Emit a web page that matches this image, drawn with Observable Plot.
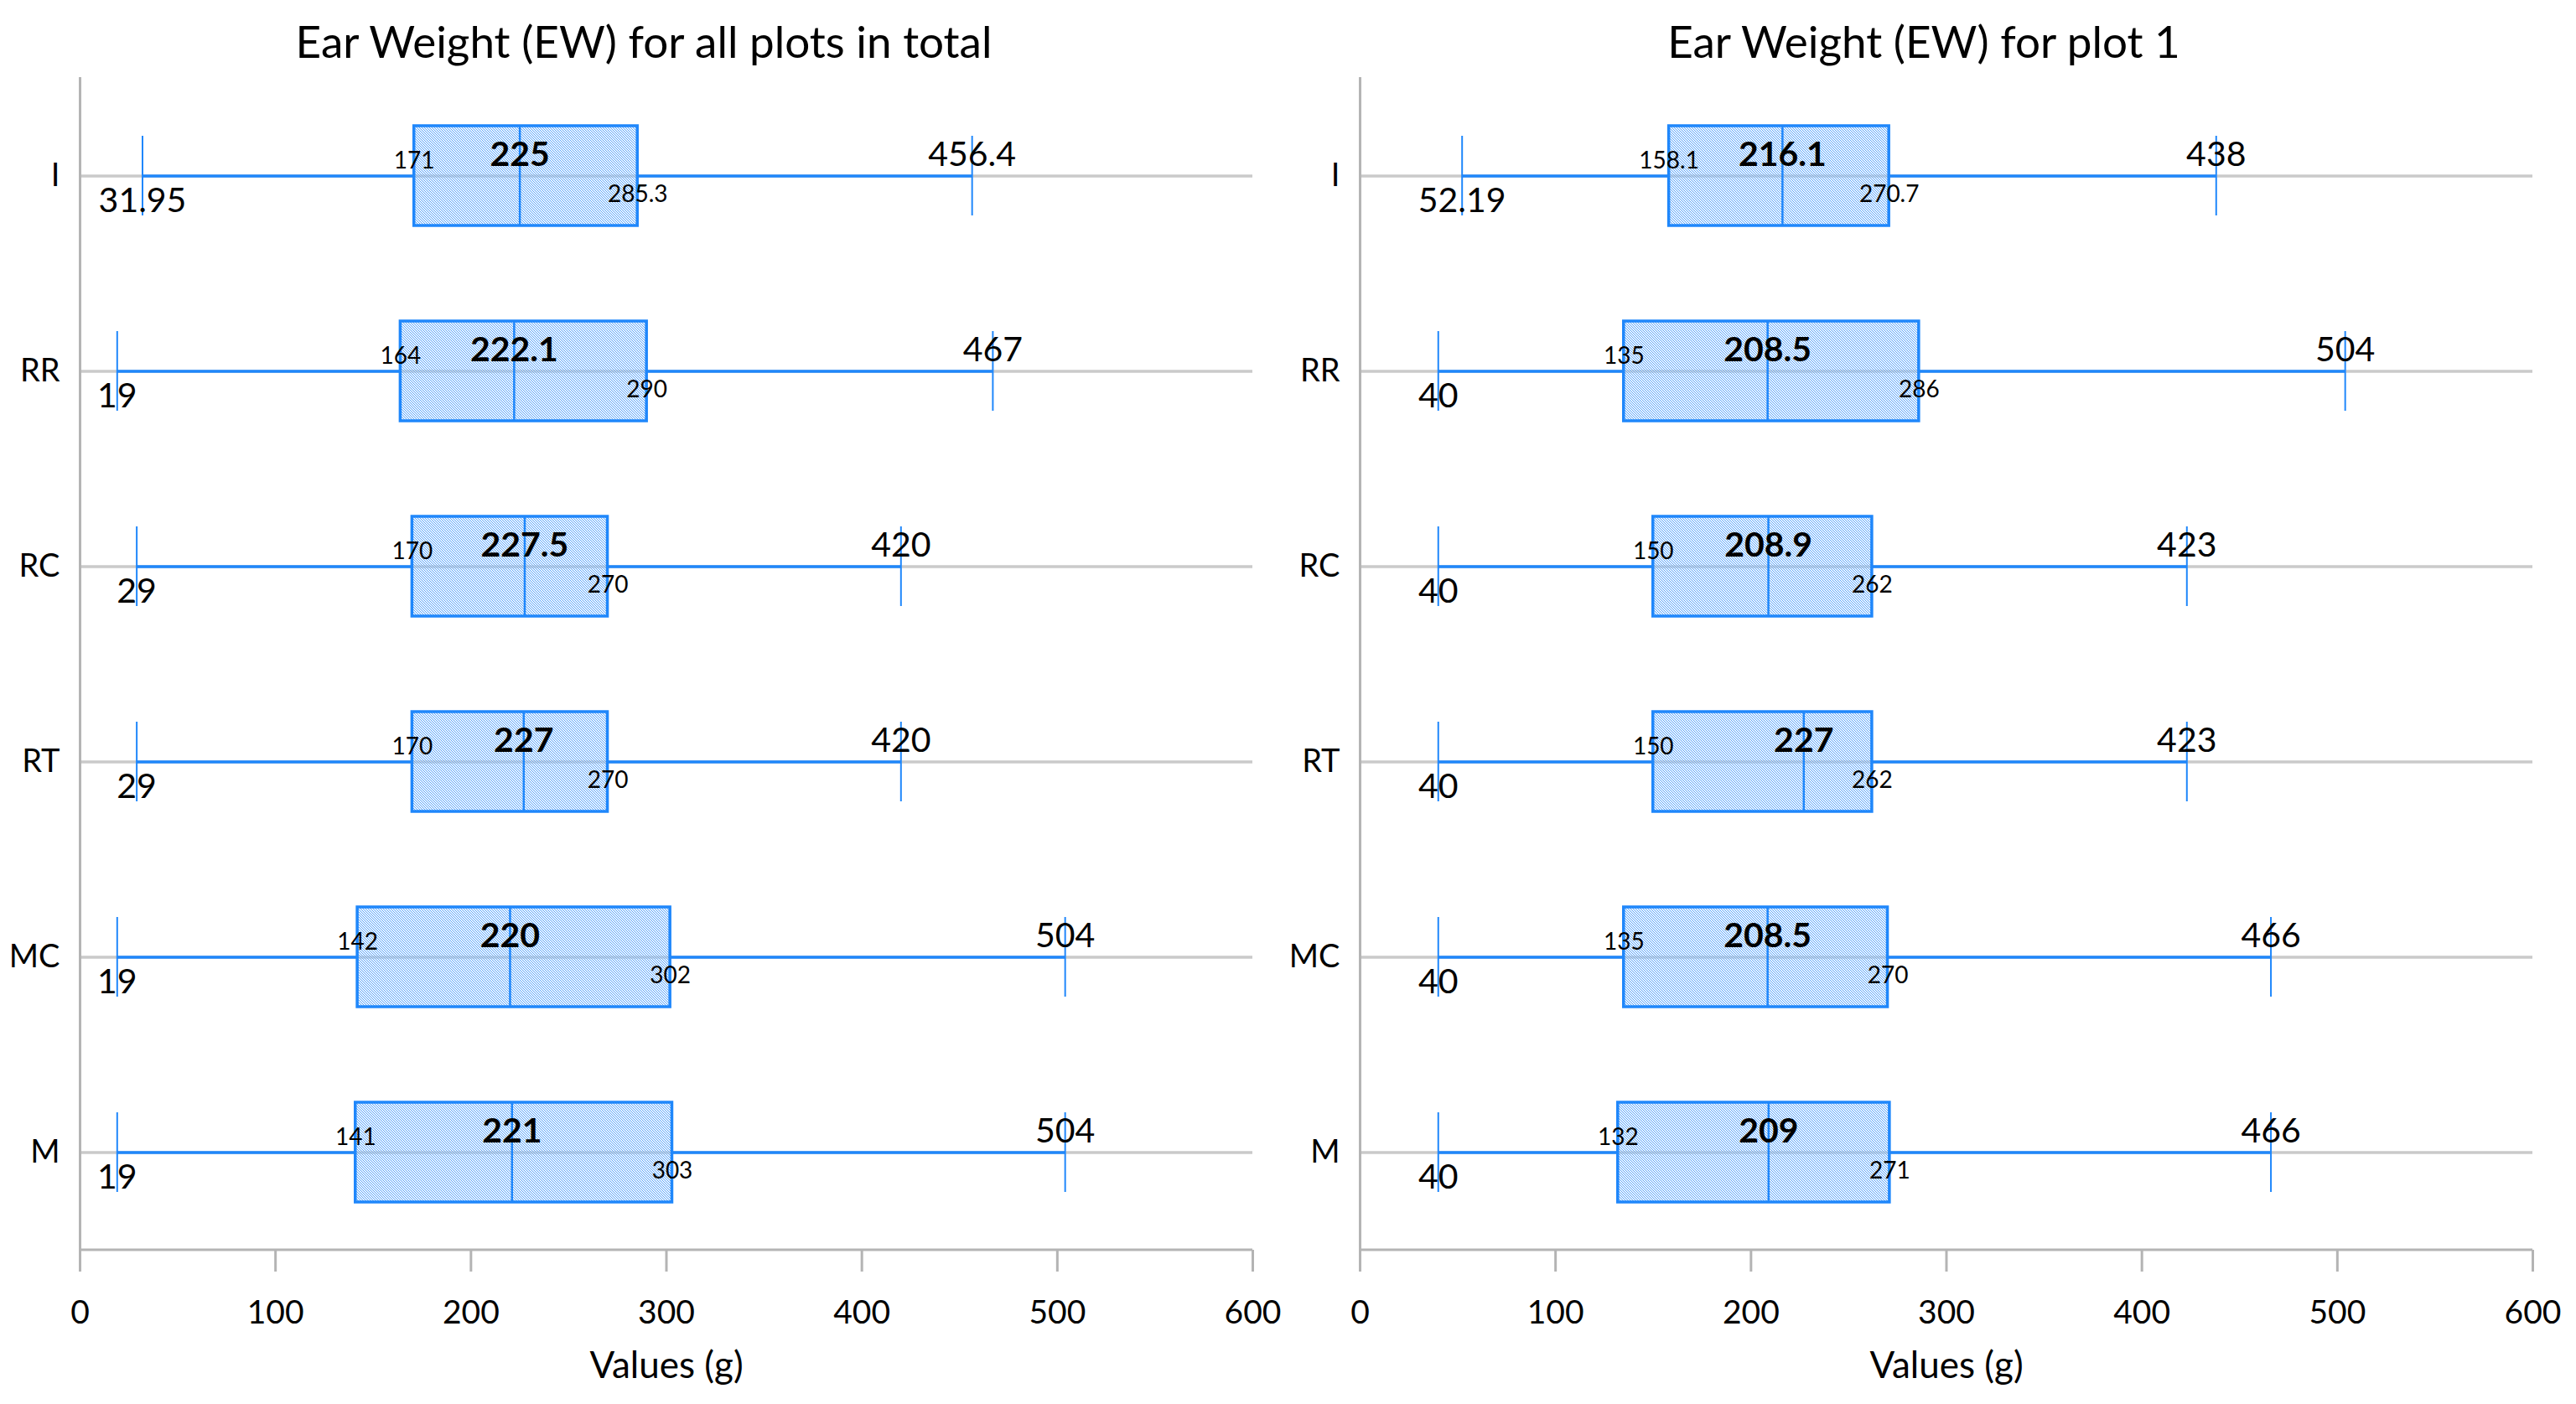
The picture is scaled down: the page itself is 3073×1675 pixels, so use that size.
<!DOCTYPE html>
<html><head><meta charset="utf-8">
<script src="https://cdn.jsdelivr.net/npm/d3@7"></script>
<script src="https://cdn.jsdelivr.net/npm/@observablehq/plot@0.6"></script>
<style>
html,body{margin:0;padding:0;background:#fff;}
#wrap{position:relative;width:3073px;height:1675px;overflow:hidden;background:#fff;}
.panel{position:absolute;top:0;}
</style></head><body>
<div id="wrap"><div class="panel" id="left" style="left:0px"></div><div class="panel" id="right" style="left:1527px"></div></div>
<script>
// ---- data ----
const categories = ["I", "RR", "RC", "RT", "MC", "M"];
const xTicks = [0, 100, 200, 300, 400, 500, 600];

const totalMin    = [31.95, 19, 29, 29, 19, 19];
const totalQ1     = [171, 164, 170, 170, 142, 141];
const totalMedian = [225, 222.1, 227.5, 227, 220, 221];
const totalQ3     = [285.3, 290, 270, 270, 302, 303];
const totalMax    = [456.4, 467, 420, 420, 504, 504];

const plot1Min    = [52.19, 40, 40, 40, 40, 40];
const plot1Q1     = [158.1, 135, 150, 150, 135, 132];
const plot1Median = [216.1, 208.5, 208.9, 227, 208.5, 209];
const plot1Q3     = [270.7, 286, 262, 262, 270, 271];
const plot1Max    = [438, 504, 423, 423, 466, 466];

const titles = ["Ear Weight (EW) for all plots in total", "Ear Weight (EW) for plot 1"];
const xLabel = "Values (g)";

function rows(mins, q1s, meds, q3s, maxs) {
  return categories.map((c, i) => ({cat: c, min: mins[i], q1: q1s[i], median: meds[i], q3: q3s[i], max: maxs[i]}));
}

const BLUE = "#1f87fb";
const AXIS = "#b4b4b4";
const GRID = "#cacaca";
const FONT = "Lato, 'Open Sans', sans-serif";

function panel(title, data, pid) {
  const bottomLine = (index, scales, values, dims) => {
    const y = dims.height - dims.marginBottom;
    return d3.create("svg:line")
      .attr("x1", scales.x(0)).attr("x2", scales.x(600))
      .attr("y1", y).attr("y2", y)
      .attr("stroke", AXIS).attr("stroke-width", 3).node();
  };
  const svg = Plot.plot({
    width: 1536, height: 1675,
    marginTop: 92, marginBottom: 184, marginLeft: 95, marginRight: 42,
    style: {fontFamily: FONT, background: "transparent", color: "#000"},
    x: {domain: [0, 600]},
    y: {domain: categories, padding: 0},
    marks: [
      Plot.gridY({stroke: GRID, strokeOpacity: 1, strokeWidth: 3.5}),
      Plot.ruleX([0], {stroke: AXIS, strokeWidth: 3}),
      bottomLine,
      Plot.axisX({ticks: xTicks, tickSize: 26, tickPadding: 34, stroke: AXIS, strokeWidth: 3, fontSize: 39, label: null}),
      Plot.axisY({tickSize: 0, tickPadding: 24, fontSize: 38, label: null}),
      Plot.barX(data, {y: "cat", x1: "q1", x2: "q3", fill: `url(#${pid})`, insetTop: 57, insetBottom: 57}),
      Plot.ruleY(data, {y: "cat", x1: "min", x2: "q1", stroke: BLUE, strokeWidth: 3.5}),
      Plot.ruleY(data, {y: "cat", x1: "q3", x2: "max", stroke: BLUE, strokeWidth: 3.5}),
      Plot.tickX(data, {y: "cat", x: "min", stroke: BLUE, strokeWidth: 2, insetTop: 69, insetBottom: 69}),
      Plot.tickX(data, {y: "cat", x: "max", stroke: BLUE, strokeWidth: 2, insetTop: 69, insetBottom: 69}),
      Plot.barX(data, {y: "cat", x1: "q1", x2: "q3", fill: "none", stroke: BLUE, strokeWidth: 3.5, insetTop: 57, insetBottom: 57}),
      Plot.tickX(data, {y: "cat", x: "median", stroke: BLUE, strokeWidth: 2.5, insetTop: 57, insetBottom: 57}),
      Plot.text(data, {y: "cat", x: "min", text: d => String(d.min), fontSize: 41, dy: 30, lineAnchor: "middle", fill: "#000"}),
      Plot.text(data, {y: "cat", x: "max", text: d => String(d.max), fontSize: 41, dy: -25, lineAnchor: "middle", fill: "#000"}),
      Plot.text(data, {y: "cat", x: "median", text: d => String(d.median), fontSize: 41, fontWeight: "bold", dy: -25, lineAnchor: "middle", fill: "#000"}),
      Plot.text(data, {y: "cat", x: "q1", text: d => String(d.q1), fontSize: 28, dy: -18, lineAnchor: "middle", fill: "#000"}),
      Plot.text(data, {y: "cat", x: "q3", text: d => String(d.q3), fontSize: 28, dy: 22, lineAnchor: "middle", fill: "#000"}),
      Plot.text([title], {frameAnchor: "top", lineAnchor: "middle", dy: -40, dx: -27, fontSize: 53, fill: "#000"}),
      Plot.text([xLabel], {frameAnchor: "bottom", lineAnchor: "middle", dy: 138, fontSize: 44, fill: "#000"})
    ]
  });
  const defs = d3.select(svg).insert("defs", ":first-child");
  const pat = defs.append("pattern").attr("id", pid)
    .attr("patternUnits", "userSpaceOnUse").attr("width", 3).attr("height", 3);
  pat.append("rect").attr("x", 0).attr("y", 0).attr("width", 1).attr("height", 1).attr("fill", BLUE);
  pat.append("rect").attr("x", 1).attr("y", 1).attr("width", 1).attr("height", 1).attr("fill", BLUE);
  pat.append("rect").attr("x", 2).attr("y", 2).attr("width", 1).attr("height", 1).attr("fill", BLUE);
  pat.append("rect").attr("x", 0).attr("y", 0).attr("width", 3).attr("height", 3).attr("fill", "#cfe3fb").attr("fill-opacity", 0.35);
  return svg;
}

document.getElementById("left").appendChild(panel(titles[0], rows(totalMin, totalQ1, totalMedian, totalQ3, totalMax), "dotsA"));
document.getElementById("right").appendChild(panel(titles[1], rows(plot1Min, plot1Q1, plot1Median, plot1Q3, plot1Max), "dotsB"));
</script>
</body></html>
